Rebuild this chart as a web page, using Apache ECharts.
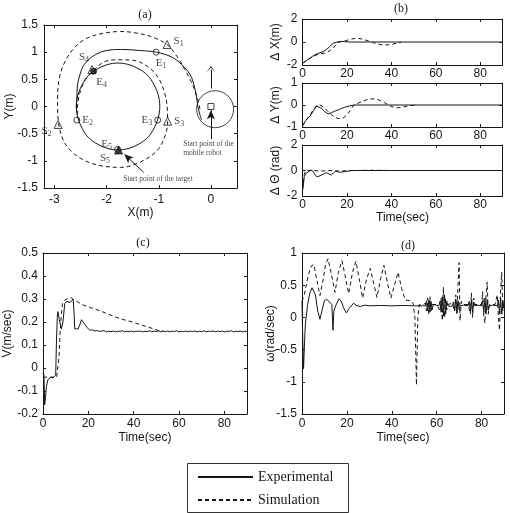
<!DOCTYPE html>
<html><head><meta charset="utf-8">
<script src="https://cdn.jsdelivr.net/npm/echarts@6/dist/echarts.min.js"></script>
<style>html,body{margin:0;padding:0;background:#fff}#c{width:510px;height:513px}</style>
</head><body><div id="c"></div>
<script>
// ---------- tick labels ----------
const aXTicks = [-3, -2, -1, 0];
const aYTicks = [-1.5, -1, -0.5, 0, 0.5, 1, 1.5];
const timeTicks = [0, 20, 40, 60, 80];
const b1YTicks = [-2, 0, 2];
const b2YTicks = [-1, 0, 1];
const b3YTicks = [-2, 0, 2];
const cYTicks = [-0.2, -0.1, 0, 0.1, 0.2, 0.3, 0.4, 0.5];
const dYTicks = [-1.5, -1, -0.5, 0, 0.5, 1];

// ---------- (a) trajectories [X, Y] ----------
const trajExp = [[-0.18,-0.25],[-0.22,-0.12],[-0.25,0.0],[-0.27,0.13],[-0.32,0.38],[-0.40,0.59],[-0.56,0.77],[-0.75,0.91],[-1.05,1.0],[-1.35,1.03],[-1.73,1.05],[-2.05,1.02],[-2.27,0.92],[-2.43,0.77],[-2.51,0.59],[-2.56,0.38],[-2.57,0.13],[-2.58,0],[-2.55,-0.21],[-2.47,-0.40],[-2.35,-0.57],[-2.18,-0.69],[-1.99,-0.77],[-1.78,-0.80],[-1.57,-0.77],[-1.38,-0.69],[-1.21,-0.57],[-1.09,-0.40],[-1.01,-0.21],[-0.98,0],[-1.01,0.21],[-1.09,0.40],[-1.21,0.57],[-1.38,0.69],[-1.57,0.77],[-1.78,0.80],[-1.99,0.77],[-2.18,0.69],[-2.35,0.57],[-2.47,0.40],[-2.55,0.21],[-2.58,0],[-2.57,-0.1]];
const trajSim = [[-0.21,-0.05],[-0.27,0.19],[-0.37,0.44],[-0.50,0.68],[-0.65,0.92],[-0.84,1.14],[-1.16,1.29],[-1.48,1.36],[-1.73,1.38],[-2.05,1.35],[-2.37,1.26],[-2.62,1.08],[-2.81,0.80],[-2.91,0.50],[-2.94,0.13],[-2.93,-0.23],[-2.84,-0.60],[-2.69,-0.81],[-2.43,-0.99],[-2.11,-1.09],[-1.73,-1.12],[-1.35,-1.02],[-1.03,-0.81],[-0.88,-0.54],[-0.83,-0.28],[-0.84,0.01],[-0.91,0.32],[-1.03,0.56],[-1.22,0.74],[-1.48,0.85],[-1.80,0.86],[-2.05,0.82],[-2.24,0.67],[-2.40,0.50],[-2.50,0.29],[-2.55,0.07],[-2.56,-0.1],[-2.53,-0.25]];
const sNames = ['S1','S2','S3','S4','S5'];
const sPts = [[-0.84,1.14],[-2.93,-0.33],[-0.83,-0.27],[-2.28,0.68],[-1.77,-0.80]];
const eNames = ['E1','E2','E3','E4','E5'];
const ePts = [[-1.05,1.0],[-2.57,-0.25],[-1.02,-0.25],[-2.25,0.65],[-1.79,-0.79]];
const robotCentre = [0.08, -0.05];
const robotStart = [0, 0];
const headingArrow = [[0, 0.33], [0, 0.68]];
const robotNoteArrow = [[0, -0.6], [0, -0.07]];
const targetNoteArrow = [[-1.29, -1.21], [-1.66, -0.88]];
const robotNote = { at: [-0.53, -0.78], text: 'Start point of the\nmobile robot' };
const targetNote = { at: [-1.68, -1.33], text: 'Start point of the target' };

// ---------- (b) errors vs time [t, value] ----------
const dxExp = [[0,-1.85],[2,-1.6],[4,-1.3],[5.6,-1.12],[7.5,-0.95],[9.3,-0.83],[11,-0.62],[12.3,-0.39],[13.8,-0.1],[16.7,0.05],[19,0.03],[21,0],[90,0]];
const dxSim = [[0,-1.85],[2,-1.6],[4,-1.35],[6,-1.15],[8,-1.02],[10,-0.97],[12,-0.8],[13.8,-0.54],[15.5,-0.1],[17.5,0.05],[19.7,0.13],[22,0.25],[24.2,0.34],[27,0.25],[29.5,0.1],[31.6,-0.04],[34,-0.18],[36,-0.25],[38.5,-0.25],[40.6,-0.19],[42.5,-0.1],[44.3,-0.04]];
const dyExp = [[0,-0.95],[1.5,-0.7],[3.4,-0.5],[5,-0.25],[6.3,-0.05],[7,0.02],[8.5,-0.15],[10,-0.3],[11.5,-0.4],[13,-0.35],[15,-0.26],[16.7,-0.2],[19,-0.1],[21,-0.05],[23,0],[90,0]];
const dySim = [[0,-0.95],[1.5,-0.7],[3.4,-0.45],[5,-0.2],[6.5,-0.02],[7.5,0.02],[9.8,-0.12],[12,-0.35],[14,-0.52],[16,-0.62],[18.2,-0.6],[20,-0.45],[21.5,-0.25],[22.7,-0.05],[25,0.08],[27,0.17],[29,0.24],[30.9,0.28],[32.8,0.27],[34.6,0.22],[37,0.1],[39,-0.02],[41,-0.1],[42.8,-0.13],[45,-0.1],[47.2,-0.05],[51,0]];
const dthExp = [[0,-1.6],[0.4,-1.14],[0.8,-0.48],[1.5,-0.25],[2.6,-0.1],[4.1,0.04],[5.2,-0.2],[6.3,-0.48],[7.4,-0.45],[8.6,-0.35],[10.8,-0.17],[12,-0.28],[13,-0.35],[14,-0.2],[15,-0.04],[16.7,-0.14],[19,-0.09],[22,0],[90,0]];
const dthSim = [[0,-1.5],[0.8,-0.3],[1.5,0],[4,0.02],[8,-0.05],[12,0],[16,-0.04],[20,-0.02],[25,0],[30,0.02],[40,0],[50,0]];

// ---------- (c) linear velocity [t, V] ----------
const vExp = [[0,-0.02],[0.4,-0.03],[0.75,-0.16],[1.1,-0.13],[1.5,-0.08],[2.2,-0.05],[2.7,-0.045],[3.5,-0.04],[4.5,-0.042],[5.2,-0.04],[5.6,-0.03],[5.9,0.1],[6.3,0.22],[6.6,0.245],[7.2,0.21],[8.1,0.17],[8.8,0.2],[9.6,0.28],[10.3,0.29],[11,0.295],[12,0.285],[12.6,0.29],[13.3,0.3],[13.7,0.24],[14,0.17],[14.8,0.175],[15.5,0.17],[16.3,0.19],[17,0.21],[17.7,0.2],[18.5,0.19],[19.5,0.175],[20.6,0.165],[21.5,0.166],[22,0.163],
[23,0.161],[24,0.163],[25,0.159],[26,0.161],[27,0.162],[28,0.157],[29,0.16],[30,0.158],[31,0.161],[32,0.157],[33,0.16],[34,0.159],[35,0.162],[36,0.157],[37,0.16],[38,0.158],[39,0.161],[40,0.157],[41,0.16],[42,0.159],[43,0.161],[44,0.157],[45,0.16],[46,0.158],[47,0.162],[48,0.157],[49,0.16],[50,0.159],[51,0.161],[52,0.157],[53,0.16],[54,0.158],[55,0.161],[56,0.157],[57,0.16],[58,0.159],[59,0.162],[60,0.157],[61,0.16],[62,0.158],[63,0.161],[64,0.157],[65,0.16],[66,0.159],[67,0.161],[68,0.157],[69,0.16],[70,0.158],[71,0.162],[72,0.157],[73,0.16],[74,0.159],[75,0.161],[76,0.157],[77,0.16],[78,0.158],[79,0.161],[80,0.157],[81,0.16],[82,0.159],[83,0.162],[84,0.157],[85,0.16],[86,0.158],[87,0.161],[88,0.157],[89,0.16],[90,0.159]];
const vSim = [[0,-0.04],[2,-0.04],[4,-0.04],[6,-0.04],[6.8,-0.04],[7.1,0.05],[7.5,0.15],[8,0.22],[8.6,0.28],[9.5,0.295],[10.3,0.3],[11.5,0.305],[12.6,0.305],[13.6,0.295],[14.8,0.29],[17.7,0.274],[21,0.262],[25.1,0.249],[28.8,0.234],[32.5,0.22],[36,0.209],[39.8,0.199],[42.8,0.189],[45.7,0.18],[49.4,0.168],[51,0.163],[53,0.161]];

// ---------- (d) angular velocity [t, omega] ----------
const wExp = [[0,0.25],[0.3,-0.3],[0.7,-0.8],[1.0,-0.5],[1.5,-0.1],[2.5,0.2],[3.5,0.38],[4.5,0.46],[5.2,0.47],[6,0.35],[7,0.1],[8,-0.03],[9,0.12],[10,0.26],[11,0.28],[12,0.25],[13.3,0.2],[13.8,-0.2],[14.2,0.1],[15,0.18],[16.5,0.29],[17.5,0.25],[18.5,0.15],[19.8,0.07],[21,0.14],[23,0.22],[24.5,0.18],[26,0.17],[28,0.19],[30,0.18],[35,0.185],[40,0.18],[45,0.185],[50,0.18],[54,0.18],
[55,0.18],[55.5,0.26],[56,0.1],[56.5,0.27],[57,0.08],[57.5,0.25],[58,0.12],[58.5,0.2],[59,0.18],[60,0.19],
[61,0.18],[61.5,0.25],[62,0.08],[62.5,0.32],[63,0.02],[63.5,0.35],[64,0.05],[64.5,0.25],[65,0.18],[66,0.17],
[67,0.18],[67.5,0.24],[68,0.1],[68.5,0.28],[69,0.07],[69.5,0.26],[70,0.12],[70.5,0.18],[72,0.19],
[74,0.18],[74.5,0.25],[75,0.1],[75.5,0.27],[76,0.08],[76.5,0.24],[77,0.18],[78.5,0.19],
[80,0.18],[80.5,0.26],[81,0.08],[81.5,0.3],[82,0.05],[82.5,0.28],[83,0.12],[83.5,0.18],[85,0.19],
[87,0.18],[87.5,0.27],[88,0.06],[88.5,0.3],[89,0.05],[89.5,0.26],[90,0.15]];
const wSim = [[0,0.25],[1,0.35],[2,0.52],[3,0.68],[4.2,0.8],[5.3,0.82],[6.5,0.6],[8,0.34],[9.5,0.6],[10.5,0.82],[11.6,0.91],[12.8,0.72],[14.7,0.39],[16.2,0.7],[17.8,0.88],[19.2,0.65],[20.8,0.37],[22.5,0.7],[24,0.87],[25.5,0.6],[27,0.3],[28.8,0.6],[30.4,0.76],[32,0.52],[33.4,0.31],[35,0.6],[36.5,0.81],[38,0.55],[39.6,0.3],[41.2,0.5],[42.8,0.7],[44.4,0.45],[46,0.27],[48,0.26],[49.5,0.22],[50.3,0.0],[51,-1.05],[51.6,0.0],[52.3,0.2],[54,0.2],
[55,0.22],[55.5,0.1],[56,0.3],[56.5,0.05],[57,0.32],[57.5,0.1],[58,0.2],[60,0.2],[61.5,0.1],[62,0.3],[62.5,-0.05],[63,0.47],[63.5,0.0],[64,0.3],[64.5,0.12],[65,0.2],[67,0.22],[68,0.1],[68.5,0.35],[69,0.05],[69.5,0.5],[70,0.85],[70.4,-0.05],[71,0.25],[72,0.2],[74,0.2],[75,0.05],[75.5,0.38],[76,0.0],[76.5,0.3],[77,0.2],[80,0.2],[80.5,0.4],[81,0.0],[81.5,-0.09],[82,0.35],[82.5,0.55],[83,0.05],[83.5,0.2],[86,0.2],[87,0.35],[87.5,0.0],[88,-0.2],[88.5,0.45],[89,0.7],[89.5,0.1],[90,0.2]];

// ---------- rendering ----------
const INK = '#161616';
const SANS = 'Liberation Sans, Arial, sans-serif';
const SERIF = 'Liberation Serif, Times New Roman, serif';

const panels = [
  { grid:{left:44, top:25, width:193, height:163},
    x:{min:-3.2, max:0.5, ticks:aXTicks, name:'X(m)', nameGap:19, margin:6},
    y:{min:-1.5, max:1.5, ticks:aYTicks, name:'Y(m)', nameGap:28, margin:6} },
  { grid:{left:302.5, top:19, width:200, height:46},
    x:{min:0, max:90, ticks:timeTicks, margin:3},
    y:{min:-2, max:2, ticks:b1YTicks, name:'\u0394 X(m)', nameGap:21, margin:5} },
  { grid:{left:302.5, top:83, width:200, height:44},
    x:{min:0, max:90, ticks:timeTicks, margin:3},
    y:{min:-1, max:1, ticks:b2YTicks, name:'\u0394 Y(m)', nameGap:21, margin:5} },
  { grid:{left:302.5, top:145, width:200, height:51},
    x:{min:0, max:90, ticks:timeTicks, name:'Time(sec)', nameGap:16, margin:3},
    y:{min:-2, max:2, ticks:b3YTicks, name:'\u0394 \u0398 (rad)', nameGap:21, margin:5} },
  { grid:{left:43, top:253, width:204, height:161},
    x:{min:0, max:90, ticks:timeTicks, name:'Time(sec)', nameGap:18, margin:4},
    y:{min:-0.2, max:0.5, ticks:cYTicks, name:'V(m/sec)', nameGap:29, margin:5} },
  { grid:{left:302, top:253, width:202, height:161},
    x:{min:0, max:90, ticks:timeTicks, name:'Time(sec)', nameGap:18, margin:4},
    y:{min:-1.5, max:1, ticks:dYTicks, name:'\u03c9(rad/sec)', nameGap:25, margin:5} }
];

const grids = [], xAxes = [], yAxes = [];
function axis(gi, c, pos, primary, dim) {
  return {
    type:'value', gridIndex:gi, position:pos, min:c.min, max:c.max,
    axisLine:{show:true, onZero:false, lineStyle:{color:INK, width:1}},
    axisTick:{show:true, inside:true, length:3, customValues:c.ticks, lineStyle:{color:INK, width:1}},
    axisLabel:{show:primary, customValues:c.ticks, color:INK, fontFamily:SANS, fontSize:12, margin:c.margin},
    splitLine:{show:false},
    name: primary && c.name ? c.name : '',
    nameLocation:'middle', nameGap:c.nameGap || 20, nameRotate: dim === 'y' ? 90 : 0,
    nameMoveOverlap:false,
    nameTextStyle:{color:INK, fontFamily:SANS, fontSize:12}
  };
}
panels.forEach((p, gi) => {
  grids.push(Object.assign({containLabel:false}, p.grid));
  xAxes.push(axis(gi, p.x, 'bottom', true, 'x'), axis(gi, p.x, 'top', false, 'x'));
  yAxes.push(axis(gi, p.y, 'left', true, 'y'), axis(gi, p.y, 'right', false, 'y'));
});

function line(gi, name, data, dashed, extra) {
  return Object.assign({
    type:'line', name, xAxisIndex:2*gi, yAxisIndex:2*gi, data,
    symbol:'none', showSymbol:false, animation:false, silent:true,
    lineStyle:{color:INK, width:1, type: dashed ? [4,3] : 'solid'},
    itemStyle:{color:INK}, z: dashed ? 3 : 4
  }, extra || {});
}

const filledMarks = {S5:true, E4:true};
const labelPlace = {
  S1:{position:'right', distance:2, offset:[0,-3]},
  S2:{position:'left', distance:2, offset:[0,7]},
  S3:{position:'right', distance:2},
  S4:{position:'top', distance:1, offset:[-8,0]},
  S5:{position:'left', distance:2, offset:[-2,8]},
  E1:{position:'bottom', distance:1, offset:[5,0]},
  E2:{position:'right', distance:2},
  E3:{position:'left', distance:2},
  E4:{position:'bottom', distance:1, offset:[8,0]},
  E5:{position:'left', distance:2, offset:[0,-5]}
};
const subRich = {
  m:{fontFamily:SERIF, fontSize:11, color:INK},
  s:{fontFamily:SERIF, fontSize:8, color:INK, verticalAlign:'bottom', padding:[5,0,0,0]}
};
function markItems(names, pts, shape, size) {
  return pts.map((v, i) => ({
    value:v, name:names[i], symbol:shape, symbolSize:size,
    itemStyle:{color: filledMarks[names[i]] ? INK : 'rgba(0,0,0,0)', borderColor:INK, borderWidth:1},
    label:Object.assign({show:true, formatter:p => '{m|' + p.name[0] + '}{s|' + p.name[1] + '}', rich:subRich}, labelPlace[names[i]])
  }));
}

const series = [
  line(0, 'Experimental', trajExp, false, {smooth:0.35}),
  line(0, 'Simulation', trajSim, true, {smooth:0.35}),
  { type:'scatter', xAxisIndex:0, yAxisIndex:0, silent:true, animation:false, z:6,
    data: markItems(sNames, sPts, 'triangle', 8).concat(markItems(eNames, ePts, 'circle', 6)) },
  { type:'scatter', xAxisIndex:0, yAxisIndex:0, silent:true, animation:false, z:5,
    data:[
      {value:robotCentre, symbol:'circle', symbolSize:37, itemStyle:{color:'rgba(0,0,0,0)', borderColor:INK, borderWidth:1}},
      {value:robotStart, symbol:'rect', symbolSize:6, itemStyle:{color:'#fff', borderColor:INK, borderWidth:1}},
      {value:robotNote.at, symbolSize:0, label:{show:true, position:'right', distance:0, formatter:robotNote.text, fontFamily:SERIF, fontSize:7.5, lineHeight:9, color:INK}},
      {value:targetNote.at, symbolSize:0, label:{show:true, position:'right', distance:0, formatter:targetNote.text, fontFamily:SERIF, fontSize:7.5, lineHeight:9, color:INK}}
    ] },
  { type:'line', xAxisIndex:0, yAxisIndex:0, data:[], silent:true, animation:false,
    markLine:{ silent:true, animation:false, symbolSize:[0,7], label:{show:false},
      lineStyle:{color:INK, width:1, type:'solid'},
      data:[
        [{coord:headingArrow[0], symbol:'none'}, {coord:headingArrow[1], symbol:'path://M0,10 L5,0 L10,10 L5,2 Z', symbolSize:[10,7]}],
        [{coord:robotNoteArrow[0], symbol:'none'}, {coord:robotNoteArrow[1], symbol:'arrow', symbolSize:[6,9]}],
        [{coord:targetNoteArrow[0], symbol:'none'}, {coord:targetNoteArrow[1], symbol:'arrow', symbolSize:[6,9]}]
      ] } },
  line(1, 'Experimental', dxExp, false),
  line(1, 'Simulation', dxSim, true),
  line(2, 'Experimental', dyExp, false),
  line(2, 'Simulation', dySim, true),
  line(3, 'Experimental', dthExp, false),
  line(3, 'Simulation', dthSim, true),
  line(4, 'Experimental', vExp, false),
  line(4, 'Simulation', vSim, true),
  line(5, 'Experimental', wExp, false),
  line(5, 'Simulation', wSim, true)
];

const chart = echarts.init(document.getElementById('c'), null, {width:510, height:513});
chart.setOption({
  animation:false,
  backgroundColor:'#fff',
  grid:grids, xAxis:xAxes, yAxis:yAxes, series,
  legend:{ data:['Experimental','Simulation'], orient:'vertical', left:197, top:470, padding:0,
    itemWidth:55, itemHeight:14, itemGap:9, selectedMode:false,
    itemStyle:{color:'rgba(0,0,0,0)', borderColor:'rgba(0,0,0,0)', borderWidth:0},
    textStyle:{fontFamily:SERIF, fontSize:14, color:INK} },
  graphic:[
    {type:'rect', shape:{x:187.5, y:463.5, width:161, height:49}, style:{fill:'none', stroke:'#333', lineWidth:1}, z:-1},
    {type:'text', style:{x:145, y:15, text:'(a)', font:'12px ' + SERIF, fill:INK, align:'center', verticalAlign:'middle'}},
    {type:'text', style:{x:401, y:9, text:'(b)', font:'12px ' + SERIF, fill:INK, align:'center', verticalAlign:'middle'}},
    {type:'text', style:{x:143, y:243, text:'(c)', font:'12px ' + SERIF, fill:INK, align:'center', verticalAlign:'middle'}},
    {type:'text', style:{x:408, y:246, text:'(d)', font:'12px ' + SERIF, fill:INK, align:'center', verticalAlign:'middle'}}
  ]
});
</script>
</body></html>
